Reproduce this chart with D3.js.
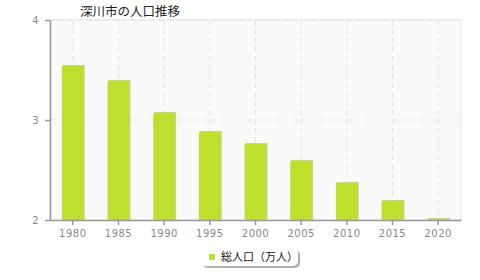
<!DOCTYPE html>
<html>
<head>
<meta charset="utf-8">
<script src="https://cdn.jsdelivr.net/npm/d3@7"></script>
<style>
  body { margin: 0; background: #fff; }
  text { font-family: "Noto Sans CJK JP", "DejaVu Sans", sans-serif; }
</style>
</head>
<body>
<div id="grafica"></div>
<script>
var years = ["1980", "1985", "1990", "1995", "2000", "2005", "2010", "2015", "2020"];
var population = [3.54, 3.39, 3.07, 2.88, 2.76, 2.59, 2.37, 2.19, 2.01];
var yTicks = [2, 3, 4];
var title = "深川市の人口推移";
var seriesName = "総人口（万人）";

var margin = {top: 20, right: 19, bottom: 60, left: 50},
    width = 480 - margin.left - margin.right,
    height = 280 - margin.top - margin.bottom;

var root = d3.select("#grafica")
  .append("svg")
    .attr("width", 480)
    .attr("height", 280);

var svg = root.append("g")
    .attr("transform", "translate(" + margin.left + "," + margin.top + ")");

// plot background
svg.append("rect")
  .attr("width", width)
  .attr("height", height)
  .style("fill", "#fafafa")
  .style("stroke", "#e6e6e6");

var x = d3.scaleBand()
  .domain(years)
  .range([0, width])
  .paddingInner(0.52)
  .paddingOuter(0.26);

var y = d3.scaleLinear()
  .domain([2, 4])
  .range([height, 0]);

// gridlines
svg.append("g")
  .selectAll("line")
  .data(years)
  .enter().append("line")
    .attr("x1", function(d) { return x(d) + x.bandwidth() / 2; })
    .attr("x2", function(d) { return x(d) + x.bandwidth() / 2; })
    .attr("y1", 0)
    .attr("y2", height)
    .style("stroke", "#e2e2e2")
    .style("stroke-dasharray", "5,4");

svg.append("g")
  .selectAll("line")
  .data(yTicks.slice(1))
  .enter().append("line")
    .attr("x1", 0)
    .attr("x2", width)
    .attr("y1", function(d) { return y(d); })
    .attr("y2", function(d) { return y(d); })
    .style("stroke", "#e2e2e2")
    .style("stroke-dasharray", "5,4");

// bar shadows
svg.append("g")
  .selectAll("rect")
  .data(population)
  .enter().append("rect")
    .attr("x", function(d, i) { return x(years[i]) + 1; })
    .attr("y", function(d) { return y(d) - 1; })
    .attr("width", x.bandwidth())
    .attr("height", function(d) { return height - y(d) + 1; })
    .style("fill", "#a8b47a")
    .style("opacity", 0.6);

// bars
svg.append("g")
  .selectAll("rect")
  .data(population)
  .enter().append("rect")
    .attr("x", function(d, i) { return x(years[i]); })
    .attr("y", function(d) { return y(d); })
    .attr("width", x.bandwidth())
    .attr("height", function(d) { return height - y(d); })
    .style("fill", "#bde02f");

// axes
var xAxis = svg.append("g")
  .attr("transform", "translate(0," + height + ")")
  .call(d3.axisBottom(x).tickSize(5).tickPadding(5).tickSizeOuter(0));

var yAxis = svg.append("g")
  .call(d3.axisLeft(y).tickValues(yTicks).tickFormat(d3.format("d")).tickSize(5).tickPadding(6).tickSizeOuter(0));

[xAxis, yAxis].forEach(function(a) {
  a.select(".domain").style("stroke", "#999").style("stroke-width", 1.5);
  a.selectAll(".tick line").style("stroke", "#999").style("stroke-width", 1.5);
  a.selectAll(".tick text")
    .style("fill", "#888")
    .style("font-size", "10px")
    .style("font-family", "'DejaVu Sans', sans-serif")
    .style("letter-spacing", "0.5px");
});

// title
root.append("text")
  .attr("x", 80)
  .attr("y", 16)
  .style("font-size", "12.5px")
  .style("fill", "#222")
  .text(title);

// legend
var legend = root.append("g");
legend.append("rect")
  .attr("x", 203)
  .attr("y", 250)
  .attr("width", 97)
  .attr("height", 18)
  .attr("rx", 5)
  .style("fill", "#b0b0b0");
legend.append("rect")
  .attr("x", 201)
  .attr("y", 248)
  .attr("width", 97)
  .attr("height", 18)
  .attr("rx", 5)
  .style("fill", "#fff");
legend.append("rect")
  .attr("x", 209)
  .attr("y", 254)
  .attr("width", 6)
  .attr("height", 6)
  .style("fill", "#bde02f");
legend.append("text")
  .attr("x", 221)
  .attr("y", 261)
  .style("font-size", "11px")
  .style("fill", "#111")
  .text(seriesName);
</script>
</body>
</html>
